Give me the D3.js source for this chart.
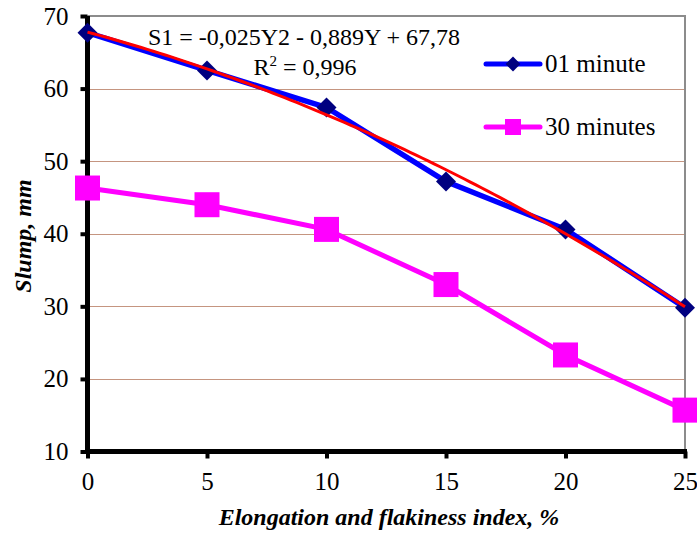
<!DOCTYPE html>
<html>
<head>
<meta charset="utf-8">
<script src="https://cdn.jsdelivr.net/npm/d3@7"></script>
<style>
  body { margin: 0; background: #fff; }
  svg text { font-family: "Liberation Serif", serif; fill: #000; }
</style>
</head>
<body>
<svg width="697" height="533"></svg>
<script>
(function() {
  // chart data
  var xValues = [0, 5, 10, 15, 20, 25];
  var oneMinute = [67.7, 62.5, 57.4, 47.2, 40.6, 29.8];
  var thirtyMinutes = [46.3, 44.0, 40.6, 33.0, 23.3, 15.7];
  var yTicks = [10, 20, 30, 40, 50, 60, 70];
  var gridValues = [20, 30, 40, 50, 60];
  // trend line coefficients from the equation label (a*Y^2 + b*Y + c)
  var trendCoef = [-0.025, -0.889, 67.78];
  var seriesNames = ["01 minute", "30 minutes"];

  var svg = d3.select("svg");

  var x = d3.scaleLinear().domain([0, 25]).range([87.5, 685]);
  var y = d3.scaleLinear().domain([10, 70]).range([451.5, 16]);

  // gridlines
  svg.append("g")
    .selectAll("line")
    .data(gridValues)
    .enter().append("line")
      .attr("x1", x(0))
      .attr("x2", x(25))
      .attr("y1", function(d) { return Math.round(y(d)) + 0.5; })
      .attr("y2", function(d) { return Math.round(y(d)) + 0.5; })
      .attr("stroke", "#8b2a00")
      .attr("stroke-width", 1)
      .attr("stroke-dasharray", "1,1");

  // top and right frame
  svg.append("path")
    .attr("d", "M" + x(0) + "," + y(70) + "H" + x(25) + "V" + y(10))
    .attr("fill", "none")
    .attr("stroke", "#8c8c8c")
    .attr("stroke-width", 2);

  // axes
  var yAxis = svg.append("g")
    .attr("transform", "translate(" + x(0) + ",0)")
    .call(d3.axisLeft(y).tickValues(yTicks).tickSize(7).tickPadding(12));
  var xAxis = svg.append("g")
    .attr("transform", "translate(0," + y(10) + ")")
    .call(d3.axisBottom(x).tickValues(xValues).tickSize(7).tickPadding(14));

  [yAxis, xAxis].forEach(function(ax) {
    ax.select(".domain").attr("stroke", "#000").attr("stroke-width", 5);
    ax.selectAll(".tick line").attr("stroke", "#000").attr("stroke-width", 4);
    ax.selectAll(".tick text")
      .attr("font-family", "Liberation Serif, serif")
      .attr("font-size", 25)
      .attr("fill", "#000");
  });
  yAxis.select(".domain").attr("d", "M0," + y(70) + "V" + (y(10) + 2));
  xAxis.select(".domain").attr("d", "M" + (x(0) - 2) + ",0H" + (x(25) + 2));

  // 30 minutes series
  var line = d3.line()
    .x(function(d, i) { return x(xValues[i]); })
    .y(function(d) { return y(d); });

  svg.append("path")
    .datum(thirtyMinutes)
    .attr("d", line)
    .attr("fill", "none")
    .attr("stroke", "#ff00ff")
    .attr("stroke-width", 5);

  svg.append("g")
    .selectAll("rect")
    .data(thirtyMinutes)
    .enter().append("rect")
      .attr("x", function(d, i) { return x(xValues[i]) - 12.5; })
      .attr("y", function(d) { return y(d) - 12.5; })
      .attr("width", 25)
      .attr("height", 25)
      .attr("fill", "#ff00ff");

  // 01 minute series
  svg.append("path")
    .datum(oneMinute)
    .attr("d", line)
    .attr("fill", "none")
    .attr("stroke", "#0000ff")
    .attr("stroke-width", 5.5);

  var diamond = d3.symbol().type(d3.symbolSquare).size(200);
  svg.append("g")
    .selectAll("path")
    .data(oneMinute)
    .enter().append("path")
      .attr("d", diamond)
      .attr("transform", function(d, i) {
        return "translate(" + x(xValues[i]) + "," + y(d) + ") rotate(45)";
      })
      .attr("fill", "#000080");

  // polynomial trend line
  var trendX = d3.range(0, 25.01, 0.25);
  svg.append("path")
    .datum(trendX)
    .attr("d", d3.line()
      .x(function(t) { return x(t); })
      .y(function(t) { return y(trendCoef[0] * t * t + trendCoef[1] * t + trendCoef[2]); }))
    .attr("fill", "none")
    .attr("stroke", "#ff0000")
    .attr("stroke-width", 3);

  // equation label
  svg.append("text")
    .attr("x", 304)
    .attr("y", 45)
    .attr("text-anchor", "middle")
    .attr("font-size", 24)
    .text("S1 = -0,025Y2 - 0,889Y + 67,78");
  var r2 = svg.append("text")
    .attr("x", 305)
    .attr("y", 75)
    .attr("text-anchor", "middle")
    .attr("font-size", 24);
  r2.append("tspan").text("R");
  r2.append("tspan").attr("dy", -9).attr("font-size", 15).text("2");
  r2.append("tspan").attr("dy", 9).text(" = 0,996");

  // legend
  var legend = svg.append("g");
  var leg1 = legend.append("g").attr("transform", "translate(486,64)");
  leg1.append("line").attr("x1", 0).attr("x2", 54)
    .attr("stroke", "#0000ff").attr("stroke-width", 5).attr("stroke-linecap", "round");
  leg1.append("path").attr("d", d3.symbol().type(d3.symbolSquare).size(110))
    .attr("transform", "translate(27,0) rotate(45)").attr("fill", "#000080");
  leg1.append("text").attr("x", 59).attr("y", 8).attr("font-size", 25).text(seriesNames[0]);

  var leg2 = legend.append("g").attr("transform", "translate(486,127)");
  leg2.append("line").attr("x1", 0).attr("x2", 54)
    .attr("stroke", "#ff00ff").attr("stroke-width", 5).attr("stroke-linecap", "round");
  leg2.append("rect").attr("x", 19).attr("y", -8).attr("width", 16).attr("height", 16)
    .attr("fill", "#ff00ff");
  leg2.append("text").attr("x", 59).attr("y", 8).attr("font-size", 25).text(seriesNames[1]);

  // axis titles
  svg.append("text")
    .attr("transform", "translate(31,236) rotate(-90)")
    .attr("text-anchor", "middle")
    .attr("font-size", 24)
    .attr("font-weight", "bold")
    .attr("font-style", "italic")
    .text("Slump, mm");

  svg.append("text")
    .attr("x", 389)
    .attr("y", 525)
    .attr("text-anchor", "middle")
    .attr("font-size", 24)
    .attr("font-weight", "bold")
    .attr("font-style", "italic")
    .text("Elongation and flakiness index, %");
})();
</script>
</body>
</html>
